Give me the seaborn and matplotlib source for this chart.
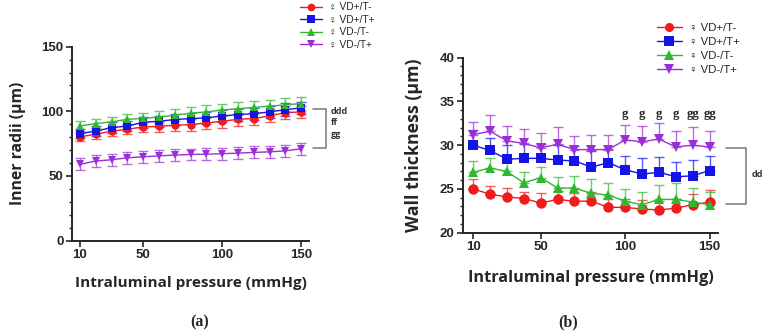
import numpy as np
import pandas as pd
import matplotlib
matplotlib.use("Agg")
import matplotlib.pyplot as plt
from matplotlib.lines import Line2D
import seaborn as sns

# ---------------- data ----------------
pressure = [10, 20, 30, 40, 50, 60, 70, 80, 90, 100, 110, 120, 130, 140, 150]
groups = ["\u2640 VD+/T-", "\u2640 VD+/T+", "\u2640 VD-/T-", "\u2640 VD-/T+"]

# (a) inner radii (um), mean and SEM
radii_vdp_tm = [80.2, 82.3, 84.6, 86.1, 87.9, 88.4, 89.2, 89.7, 91.0, 92.3, 93.8, 94.4, 96.4, 99.0, 99.5]
radii_vdp_tp = [82.8, 84.6, 87.4, 88.5, 91.5, 92.3, 93.6, 94.4, 94.9, 96.4, 97.4, 98.2, 99.5, 101.3, 102.6]
radii_vdm_tm = [88.7, 90.5, 91.8, 93.8, 94.5, 95.5, 97.0, 98.5, 99.5, 101.0, 102.0, 103.0, 104.0, 105.0, 106.0]
radii_vdm_tp = [58.9, 61.5, 62.5, 64.0, 64.8, 65.5, 66.1, 66.6, 66.8, 67.2, 67.6, 68.2, 68.6, 69.4, 71.0]
radii_err_vdp_tm = [3.0, 3.5, 3.5, 4.0, 4.2, 4.3, 4.5, 4.6, 4.8, 5.0, 5.0, 5.0, 5.0, 5.0, 4.8]
radii_err_vdp_tp = [3.8, 4.0, 4.0, 4.0, 4.2, 4.2, 4.3, 4.5, 4.5, 4.6, 4.6, 4.7, 4.7, 4.8, 4.8]
radii_err_vdm_tm = [3.6, 3.8, 4.0, 4.2, 4.3, 4.5, 4.6, 4.8, 5.0, 5.0, 5.0, 5.0, 5.0, 5.0, 5.0]
radii_err_vdm_tp = [4.7, 4.7, 4.7, 4.6, 4.6, 4.6, 4.6, 4.6, 4.6, 4.6, 4.6, 4.6, 4.6, 4.6, 4.8]

# (b) wall thickness (um), mean and SEM (upper bars only)
wall_vdp_tm = [25.0, 24.4, 24.1, 23.9, 23.4, 23.8, 23.6, 23.6, 22.9, 22.9, 22.7, 22.6, 22.8, 23.2, 23.5]
wall_vdp_tp = [30.0, 29.4, 28.4, 28.5, 28.5, 28.3, 28.2, 27.5, 28.0, 27.2, 26.7, 26.9, 26.4, 26.5, 27.1]
wall_vdm_tm = [26.9, 27.4, 27.0, 25.7, 26.3, 25.1, 25.1, 24.5, 24.3, 23.6, 23.2, 23.8, 23.8, 23.5, 23.2]
wall_vdm_tp = [31.2, 31.6, 30.5, 30.2, 29.7, 30.1, 29.5, 29.5, 29.5, 30.6, 30.4, 30.7, 29.8, 30.0, 29.8]
wall_err_vdp_tm = [1.1, 0.9, 1.0, 0.8, 1.1, 1.0, 0.9, 1.0, 0.9, 1.0, 1.0, 1.0, 1.0, 1.2, 1.4]
wall_err_vdp_tp = [1.7, 1.4, 1.6, 1.6, 1.6, 1.7, 1.7, 1.8, 1.6, 1.6, 1.8, 1.7, 1.7, 1.8, 1.7]
wall_err_vdm_tm = [1.3, 1.1, 1.2, 1.2, 1.2, 1.3, 1.4, 1.6, 1.4, 1.4, 1.5, 1.7, 1.9, 1.6, 1.4]
wall_err_vdm_tp = [1.5, 1.9, 1.7, 1.65, 1.7, 2.0, 1.6, 1.7, 1.7, 1.7, 1.8, 1.8, 1.8, 2.1, 1.8]

g_labels = ["g", "g", "g", "g", "gg", "gg"]
g_positions = [100, 110, 120, 130, 140, 150]

colors = ["#ee1c1c", "#1414e6", "#2fb82f", "#9b2fd6"]
markers = ["o", "s", "^", "v"]

# ---------------- figure ----------------
sns.set_theme(style="ticks")
plt.rcParams["font.family"] = ["Open Sans", "DejaVu Sans"]
plt.rcParams["axes.linewidth"] = 1.4

fig = plt.figure(figsize=(7.69, 3.31), dpi=100)
W, H = 769, 331
def rect(x0, x1, ytop, ybot):
    return [x0 / W, 1 - ybot / H, (x1 - x0) / W, (ybot - ytop) / H]

axA = fig.add_axes(rect(72, 309, 46.7, 240.5))
axB = fig.add_axes(rect(463, 718, 57.7, 232.7))

def long_df(series):
    rows = []
    for g, vals in zip(groups, series):
        for p, v in zip(pressure, vals):
            rows.append({"pressure": p, "value": v, "group": g})
    return pd.DataFrame(rows)

dfA = long_df([radii_vdp_tm, radii_vdp_tp, radii_vdm_tm, radii_vdm_tp])
dfB = long_df([wall_vdp_tm, wall_vdp_tp, wall_vdm_tm, wall_vdm_tp])
errA = [radii_err_vdp_tm, radii_err_vdp_tp, radii_err_vdm_tm, radii_err_vdm_tp]
errB = [wall_err_vdp_tm, wall_err_vdp_tp, wall_err_vdm_tm, wall_err_vdm_tp]

pal = dict(zip(groups, colors))
mk = dict(zip(groups, markers))

for ax, df, errs, msize, sym in [(axA, dfA, errA, 6, True), (axB, dfB, errB, 7.5, False)]:
    for g, c, e in zip(groups, colors, errs):
        sub = df[df.group == g]
        yerr = e if sym else [np.zeros(len(e)), e]
        ax.errorbar(sub.pressure, sub.value, yerr=yerr, fmt="none", ecolor=c,
                    elinewidth=1.0, capsize=3.5, capthick=1.0, alpha=0.7, zorder=2)
    sns.lineplot(data=df, x="pressure", y="value", hue="group", style="group",
                 palette=pal, markers=mk, dashes=False, markersize=msize,
                 markeredgewidth=0, linewidth=1.0, legend=False, ax=ax, zorder=3)

axA.set_xlim(5, 155)
axA.set_ylim(0, 150)
axA.set_yticks([0, 50, 100, 150])
axA.set_yticks(np.arange(0, 151, 10), minor=True)
axA.set_xlabel("Intraluminal pressure (mmHg)", fontsize=11, fontweight="bold", labelpad=11)
axA.set_ylabel("Inner radii (\u03bcm)", fontsize=11.3, fontweight="bold", labelpad=11)

axB.set_xlim(4, 155)
axB.set_ylim(20, 40)
axB.set_yticks([20, 25, 30, 35, 40])
axB.set_yticks(np.arange(20, 40.1, 1), minor=True)
axB.set_xlabel("Intraluminal pressure (mmHg)", fontsize=11.7, fontweight="bold", labelpad=12)
axB.set_ylabel("Wall thickness (\u03bcm)", fontsize=12.8, fontweight="bold", labelpad=12)

for ax in (axA, axB):
    sns.despine(ax=ax)
    ax.set_xticks([10, 50, 100, 150])
    ax.tick_params(axis="both", which="major", length=4, width=1.2, pad=2)
    ax.tick_params(axis="y", which="minor", length=2.5, width=1.0)
    ax.set_xticklabels([str(t) for t in [10, 50, 100, 150]],
                       fontdict=dict(family="Liberation Sans", weight="bold", size=9.5))
    ax.set_yticklabels([f"{t:g}" for t in ax.get_yticks()],
                       fontdict=dict(family="Liberation Sans", weight="bold", size=9.5))

# significance brackets
axA.plot([157.5, 165.5, 165.5, 157.5], [102, 102, 71.5, 71.5], color="#777777",
         lw=1.1, clip_on=False)
for txt, yv in zip(["ddd", "ff", "gg"], [100, 91.5, 82]):
    axA.text(169, yv, txt, fontsize=6.5, fontweight="bold", color="#333333",
             va="center", ha="left", clip_on=False)

axB.plot([160, 171.5, 171.5, 160], [29.7, 29.7, 23.3, 23.3], color="#777777",
         lw=1.1, clip_on=False)
axB.text(175, 26.6, "dd", fontsize=6.5, fontweight="bold", color="#333333",
         va="center", ha="left", clip_on=False)
for txt, xp in zip(g_labels, g_positions):
    axB.text(xp, 33.6, txt, fontsize=9, fontweight="bold", color="#222222",
             family="Liberation Serif", ha="center", va="center")

# legends
handles = [Line2D([], [], color=c, marker=m, markersize=5.5, markeredgewidth=0, lw=1.0)
           for c, m in zip(colors, markers)]
fig.legend(handles, groups, loc="upper left", bbox_to_anchor=(0.385, 1.005),
           frameon=False, prop=dict(family=["Liberation Sans", "DejaVu Sans"], size=7.3),
           handlelength=2.2, handletextpad=0.6, labelspacing=0.25, borderaxespad=0)
handlesB = [Line2D([], [], color=c, marker=m, markersize=6.5, markeredgewidth=0, lw=1.0)
            for c, m in zip(colors, markers)]
fig.legend(handlesB, groups, loc="upper left", bbox_to_anchor=(0.848, 0.945),
           frameon=False, prop=dict(family=["Liberation Sans", "DejaVu Sans"], size=8.2),
           handlelength=2.2, handletextpad=0.6, labelspacing=0.35, borderaxespad=0)

# panel letters
fig.text(200 / W, 1 - 322 / H, "(a)", family="Liberation Serif", weight="bold",
         fontsize=11.5, ha="center", va="center")
fig.text(568 / W, 1 - 322 / H, "(b)", family="Liberation Serif", weight="bold",
         fontsize=11.5, ha="center", va="center")

fig.savefig("out.png", dpi=100)
